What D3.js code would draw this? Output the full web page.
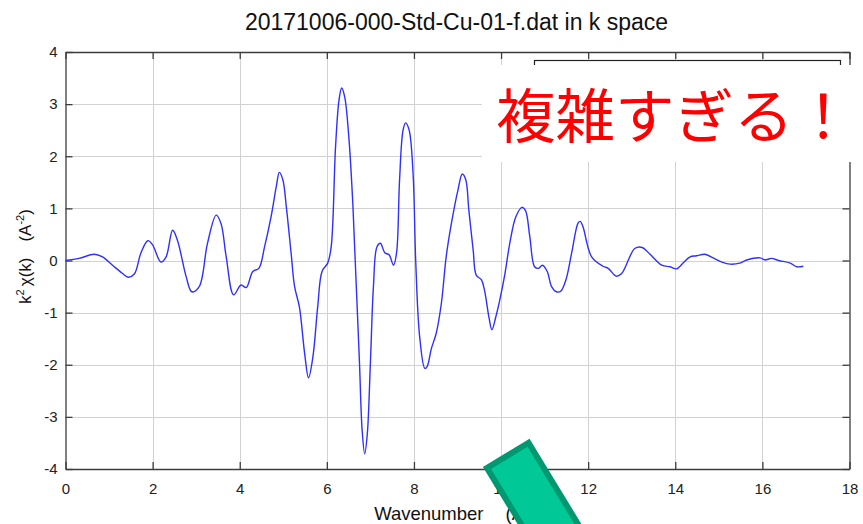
<!DOCTYPE html>
<html>
<head>
<meta charset="utf-8">
<script src="https://cdn.jsdelivr.net/npm/d3@7"></script>
<style>
  html, body { margin: 0; padding: 0; background: #fff; }
  svg { display: block; font-family: "Liberation Sans", Arial, sans-serif; }
</style>
</head>
<body>
<svg id="chart" width="863" height="524"></svg>
<script>
// EXAFS oscillation k^2·chi(k) for the Cu standard
const k = [0, 0.31, 0.66, 0.85, 1.08, 1.31, 1.44, 1.58, 1.73, 1.89, 2.0, 2.19, 2.31, 2.46, 2.57, 2.77, 2.90, 3.07, 3.26, 3.46, 3.57, 3.69, 3.86, 4.03, 4.15, 4.30, 4.44, 4.57, 4.72, 4.84, 4.91, 4.99, 5.07, 5.18, 5.26, 5.37, 5.49, 5.58, 5.68, 5.79, 5.89, 6.02, 6.10, 6.20, 6.28, 6.34, 6.41, 6.51, 6.60, 6.67, 6.75, 6.81, 6.87, 6.93, 7.00, 7.07, 7.15, 7.23, 7.33, 7.43, 7.53, 7.60, 7.67, 7.75, 7.81, 7.89, 7.98, 8.04, 8.13, 8.25, 8.30, 8.40, 8.51, 8.63, 8.74, 8.86, 9.01, 9.11, 9.19, 9.26, 9.36, 9.43, 9.55, 9.62, 9.72, 9.79, 9.88, 9.97, 10.09, 10.20, 10.34, 10.48, 10.56, 10.66, 10.77, 10.86, 10.95, 11.06, 11.16, 11.27, 11.37, 11.49, 11.62, 11.77, 11.82, 11.88, 12.08, 12.34, 12.46, 12.64, 12.77, 13.07, 13.24, 13.42, 13.69, 13.88, 14.03, 14.19, 14.34, 14.49, 14.68, 14.87, 15.07, 15.26, 15.48, 15.64, 15.95, 16.06, 16.21, 16.37, 16.64, 16.79, 16.94];
const chi = [0, 0.04, 0.12, 0.07, -0.09, -0.25, -0.32, -0.26, 0.14, 0.38, 0.30, -0.03, 0.07, 0.58, 0.39, -0.31, -0.60, -0.50, 0.33, 0.87, 0.71, 0.07, -0.66, -0.47, -0.52, -0.21, -0.15, 0.26, 0.84, 1.42, 1.69, 1.55, 1.03, 0.14, -0.50, -0.89, -1.78, -2.25, -1.85, -0.89, -0.21, -0.05, 0.26, 2.18, 3.08, 3.31, 3.14, 2.31, 1.03, -0.37, -1.97, -3.25, -3.71, -3.32, -1.97, -0.50, 0.26, 0.33, 0.15, 0.11, -0.09, 0.14, 1.55, 2.50, 2.64, 2.50, 1.67, 0.0, -1.45, -2.07, -2.04, -1.69, -1.40, -0.82, 0.07, 0.71, 1.35, 1.66, 1.55, 0.97, 0.20, -0.28, -0.37, -0.57, -1.08, -1.33, -1.08, -0.76, -0.25, 0.33, 0.84, 1.02, 0.96, 0.46, -0.12, -0.15, -0.09, -0.21, -0.50, -0.60, -0.59, -0.37, 0.14, 0.72, 0.75, 0.65, 0.07, -0.11, -0.15, -0.30, -0.25, 0.23, 0.25, 0.12, -0.09, -0.12, -0.16, -0.04, 0.07, 0.09, 0.12, 0.05, -0.03, -0.07, -0.05, 0.01, 0.05, 0.01, 0.04, 0.00, -0.05, -0.12, -0.11];

const xTicks = [0, 2, 4, 6, 8, 10, 12, 14, 16, 18];
const yTicks = [-4, -3, -2, -1, 0, 1, 2, 3, 4];

const titleText = "20171006-000-Std-Cu-01-f.dat in k space";
const calloutText = "複雑すぎる！";

const svg = d3.select("#chart");
const x = d3.scaleLinear().domain([0, 18]).range([65.5, 849.5]);
const y = d3.scaleLinear().domain([-4, 4]).range([469, 52]);

// grid
const grid = svg.append("g").attr("stroke", "#d2d2d2").attr("stroke-width", 1);
grid.selectAll("line.gx").data(xTicks.slice(1, -1)).join("line")
  .attr("x1", d => Math.round(x(d)) + 0.5).attr("x2", d => Math.round(x(d)) + 0.5)
  .attr("y1", y(4)).attr("y2", y(-4));
grid.selectAll("line.gy").data(yTicks.slice(1, -1)).join("line")
  .attr("y1", d => Math.round(y(d)) + 0.5).attr("y2", d => Math.round(y(d)) + 0.5)
  .attr("x1", x(0)).attr("x2", x(18));

// axes (ticks pointing inward, mirrored on top/right)
const fmt = d => String(d);
const axisColor = "#3c3c3c";
function styleAxis(g) {
  g.selectAll(".domain").attr("stroke", axisColor).attr("stroke-width", 1.3);
  g.selectAll(".tick line").attr("stroke", axisColor).attr("stroke-width", 1.3);
  g.selectAll(".tick text").attr("fill", "#222").style("font-size", "15px")
    .style("font-family", "'Liberation Sans', Arial, sans-serif");
}
svg.append("g").attr("transform", `translate(0,${y(-4)})`)
  .call(d3.axisBottom(x).tickValues(xTicks).tickFormat(fmt).tickSize(-7).tickSizeOuter(0).tickPadding(14))
  .call(styleAxis);
svg.append("g").attr("transform", `translate(0,${y(4)})`)
  .call(d3.axisTop(x).tickValues(xTicks).tickFormat("").tickSize(-7).tickSizeOuter(0))
  .call(styleAxis);
svg.append("g").attr("transform", `translate(${x(0)},0)`)
  .call(d3.axisLeft(y).tickValues(yTicks).tickFormat(fmt).tickSize(-7).tickSizeOuter(0).tickPadding(8))
  .call(styleAxis);
svg.append("g").attr("transform", `translate(${x(18)},0)`)
  .call(d3.axisRight(y).tickValues(yTicks).tickFormat("").tickSize(-7).tickSizeOuter(0))
  .call(styleAxis);

// data line
const pts = k.map((kv, i) => [kv, chi[i]]);
svg.append("path")
  .datum(pts)
  .attr("fill", "none")
  .attr("stroke", "#2f2fff")
  .attr("stroke-width", 1.4)
  .attr("stroke-linejoin", "round")
  .attr("d", d3.line().x(d => x(d[0])).y(d => y(d[1])).curve(d3.curveCatmullRom.alpha(0.5)));

// legend frame, mostly hidden behind the callout panel
svg.append("rect")
  .attr("x", 534.5).attr("y", 60.5).attr("width", 306).attr("height", 60)
  .attr("fill", "#fff").attr("stroke", "#222").attr("stroke-width", 1.2);

// title
svg.append("text")
  .attr("x", (x(0) + x(18)) / 2 - 1).attr("y", 30)
  .attr("text-anchor", "middle")
  .attr("fill", "#111")
  .style("font-size", "23px")
  .text(titleText);

// axis labels
const xl = svg.append("text")
  .attr("x", (x(0) + x(18)) / 2).attr("y", 520)
  .attr("text-anchor", "middle").attr("fill", "#111")
  .style("font-size", "18.5px");
xl.append("tspan").text("Wavenumber");
xl.append("tspan").attr("dx", 22).text("(Å");
xl.append("tspan").attr("dy", -7).style("font-size", "12px").text("-1");
xl.append("tspan").attr("dy", 7).text(")");

const yl = svg.append("text")
  .attr("transform", `translate(31,${y(0) - 4}) rotate(-90)`)
  .attr("text-anchor", "middle").attr("fill", "#111")
  .style("font-size", "17px");
yl.append("tspan").text("k");
yl.append("tspan").attr("dy", -7).style("font-size", "11px").text("2");
yl.append("tspan").attr("dy", 7).attr("dx", 3).text("χ(k)");
yl.append("tspan").attr("dx", 16).text("(A");
yl.append("tspan").attr("dy", -7).style("font-size", "11px").text("-2");
yl.append("tspan").attr("dy", 7).text(")");

// callout panel with comment
svg.append("rect")
  .attr("x", 482).attr("y", 65).attr("width", 381).attr("height", 97)
  .attr("fill", "#fff");
svg.append("text")
  .attr("x", 496).attr("y", 138)
  .attr("fill", "#ff0000")
  .style("font-family", "'Noto Sans CJK JP', sans-serif")
  .style("font-size", "59.5px")
  .text(calloutText);

// green pointer tail
svg.append("rect")
  .attr("transform", "translate(487,468) rotate(-31.3)")
  .attr("x", 0).attr("y", 0).attr("width", 48.6).attr("height", 200)
  .attr("fill", "#00c896")
  .attr("stroke", "#009870")
  .attr("stroke-width", 6)
  .attr("stroke-linejoin", "miter");
</script>
</body>
</html>
